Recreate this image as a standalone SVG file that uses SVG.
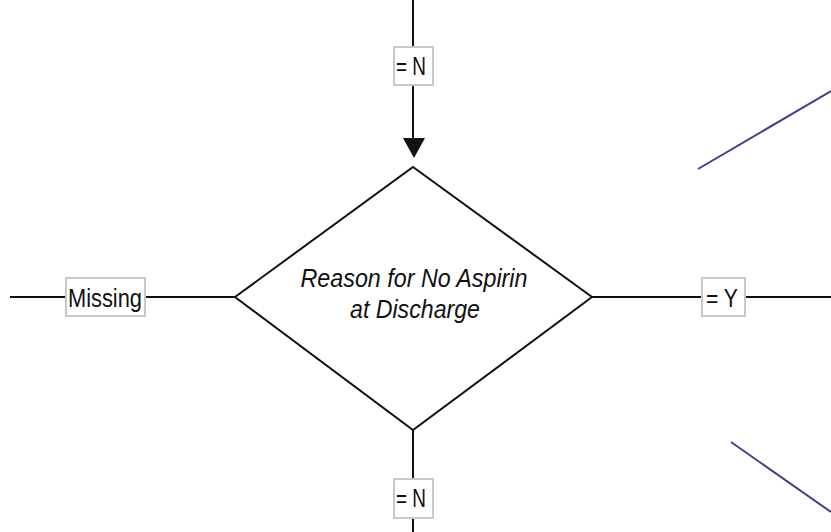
<svg xmlns="http://www.w3.org/2000/svg" width="831" height="532" viewBox="0 0 831 532">
<style>
.ln{stroke:#111;stroke-width:2;fill:none}
.pl{stroke:#4b3a8c;stroke-width:2;fill:none}
.lb{fill:#fff;stroke:#c8c8c8;stroke-width:2}
.t{font-family:"Liberation Sans",Arial,sans-serif;font-size:26px;fill:#111}
.it{font-style:italic;font-size:25px}
</style>
<rect width="831" height="532" fill="#fff"/>
<g id="connectors">
<line class="ln" x1="413" y1="0" x2="413" y2="150"/>
<polygon points="403,138 425,138 414,158" fill="#111"/>
<line class="ln" x1="413" y1="430" x2="413" y2="532"/>
<line class="ln" x1="10" y1="297" x2="235" y2="297"/>
<line class="ln" x1="592" y1="297" x2="831" y2="297"/>
<line class="pl" x1="698" y1="169" x2="831" y2="91"/>
<line class="pl" x1="731" y1="442" x2="831" y2="512"/>
<g id="label-top">
<rect class="lb" x="394" y="47" width="39" height="38"/>
<text class="t" x="396" y="75" textLength="30" lengthAdjust="spacingAndGlyphs">= N</text>
</g>
<g id="label-bottom">
<rect class="lb" x="394" y="479" width="39" height="39"/>
<text class="t" x="396" y="507" textLength="30" lengthAdjust="spacingAndGlyphs">= N</text>
</g>
<g id="label-left">
<rect class="lb" x="66" y="278" width="79" height="38"/>
<text class="t" x="68" y="307" textLength="74" lengthAdjust="spacingAndGlyphs">Missing</text>
</g>
<g id="label-right">
<rect class="lb" x="702" y="278" width="43" height="38"/>
<text class="t" x="706" y="307" textLength="32" lengthAdjust="spacingAndGlyphs">= Y</text>
</g>
</g>
<g id="decision">
<polygon class="ln" points="413,167 592,297 413,430 235,297" fill="#fff"/>
<text class="t it" x="414" y="287" text-anchor="middle" textLength="227" lengthAdjust="spacingAndGlyphs">Reason for No Aspirin</text>
<text class="t it" x="415" y="318" text-anchor="middle" textLength="130" lengthAdjust="spacingAndGlyphs">at Discharge</text>
</g>
</svg>
